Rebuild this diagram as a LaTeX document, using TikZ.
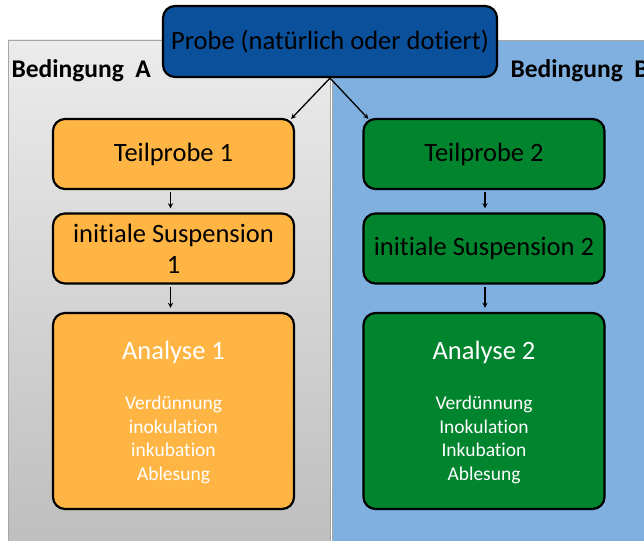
\documentclass[tikz,border=0pt]{standalone}
\usepackage{fontspec}
\setmainfont[Ligatures=NoCommon]{Carlito}
\usepackage{tikz}
\usetikzlibrary{calc}
\definecolor{probe_blue}{HTML}{0B509B}
\definecolor{panel_blue}{HTML}{80B0E0}
\definecolor{box_orange}{HTML}{FFB543}
\definecolor{box_green}{HTML}{00852E}

\tikzset{
  etape/.style={draw=black, line width=2.2pt, rounded corners=12pt,
    minimum width=241pt, minimum height=70pt, align=center,
    font=\fontsize{26.5}{31}\selectfont},
  fleche/.style={->, line width=1.3pt}
}

\begin{document}
\begin{tikzpicture}[x=1pt,y=-1pt,>=stealth]

    % Cadre de la figure
    \useasboundingbox (0,0) rectangle (644,540);

    % Les deux zones de conditions
    \draw[gray!70, line width=0.8pt, top color=gray!15, bottom color=gray!52] (8,40) rectangle (330,560);
    \draw[gray!70, line width=0.8pt, fill=panel_blue] (332,40) rectangle (660,560);
    \node[anchor=west, font=\fontsize{25.5}{30}\selectfont\bfseries] (condA) at (8,71) {Bedingung\ \ A};
    \node[anchor=west, font=\fontsize{25.5}{30}\selectfont\bfseries] (condB) at (507,71) {Bedingung\ \ B};

    % Echantillon de depart
    \node[etape, fill=probe_blue, minimum width=334pt, minimum height=71pt] (probe) at (330,41.5) {Probe (natürlich oder dotiert)};

    % Colonne de gauche
    \node[etape, fill=box_orange] (tp1) at (173.5,154) {Teilprobe 1};
    \node[etape, fill=box_orange] (sus1) at (173.5,248.5) {initiale Suspension\\1};
    \node[etape, fill=box_orange, minimum height=196pt] (an1) at (173.5,411) {};
    \node[text=white, font=\fontsize{26.5}{31}\selectfont] (an1t) at (173.5,352) {Analyse 1};
    \node[text=white, align=center, font=\fontsize{19.5}{23.6}\selectfont] (an1l) at (173.5,440) {Verdünnung\\inokulation\\inkubation\\Ablesung};

    % Colonne de droite
    \node[etape, fill=box_green] (tp2) at (484,154) {Teilprobe 2};
    \node[etape, fill=box_green] (sus2) at (484,248.5) {initiale Suspension 2};
    \node[etape, fill=box_green, minimum height=196pt] (an2) at (484,411) {};
    \node[text=white, font=\fontsize{26.5}{31}\selectfont] (an2t) at (484,352) {Analyse 2};
    \node[text=white, align=center, font=\fontsize{19.5}{23.6}\selectfont] (an2l) at (484,440) {Verdünnung\\Inokulation\\Inkubation\\Ablesung};

    % Les fleches
    \draw[fleche] (probe.south) -- ($(tp1.north east)+(-4,1)$);
    \draw[fleche] (probe.south) -- ($(tp2.north west)+(6,1)$);
    \draw[fleche] ($(tp1.south)+(-3,2)$) -- ($(sus1.north)+(-3,-4)$);
    \draw[fleche] ($(sus1.south)+(-3,2)$) -- ($(an1.north)+(-3,-4)$);
    \draw[fleche] ($(tp2.south)+(1,2)$) -- ($(sus2.north)+(1,-4)$);
    \draw[fleche] ($(sus2.south)+(1,2)$) -- ($(an2.north)+(1,-4)$);
  \end{tikzpicture}
\end{document}
